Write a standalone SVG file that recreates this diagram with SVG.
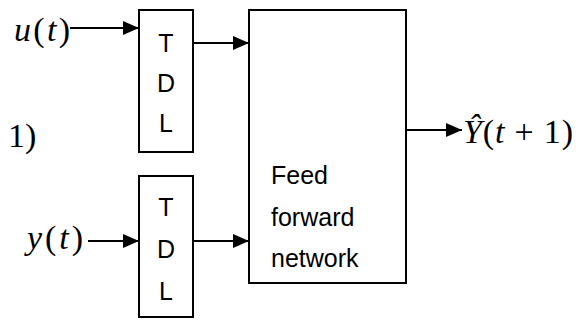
<svg xmlns="http://www.w3.org/2000/svg" width="582" height="322" viewBox="0 0 582 322">
<style>
.box{fill:#fff;stroke:#000;stroke-width:2}
.lbl{font-family:"Liberation Sans",Arial,sans-serif;font-size:25px;fill:#000}
.math{font-family:"Liberation Serif","DejaVu Serif",serif;font-size:34px;fill:#000}
.it{font-style:italic}
.conn{stroke:#000;stroke-width:2;fill:none;marker-end:url(#ah)}
</style>
<defs>
<marker id="ah" markerUnits="userSpaceOnUse" markerWidth="16" markerHeight="14" refX="16" refY="7" orient="auto">
<path d="M0,0 L16,7 L0,14 z" fill="#000"/>
</marker>
</defs>
<g id="tdl1">
<rect class="box" x="139" y="10" width="54" height="142"/>
<text class="lbl" x="166" y="52" text-anchor="middle">T</text>
<text class="lbl" x="166" y="92" text-anchor="middle">D</text>
<text class="lbl" x="166" y="132" text-anchor="middle">L</text>
</g>
<g id="tdl2">
<rect class="box" x="139" y="176" width="54" height="141"/>
<text class="lbl" x="166" y="216" text-anchor="middle">T</text>
<text class="lbl" x="166" y="258" text-anchor="middle">D</text>
<text class="lbl" x="166" y="300" text-anchor="middle">L</text>
</g>
<g id="ffn">
<rect class="box" x="249" y="10" width="157" height="273"/>
<text class="lbl" x="271" y="184">Feed</text>
<text class="lbl" x="271" y="226">forward</text>
<text class="lbl" x="271" y="267">network</text>
</g>
<g id="u-label"><text class="math" x="14" y="41" textLength="56" lengthAdjust="spacing"><tspan class="it">u</tspan>(<tspan class="it">t</tspan>)</text></g>
<g id="y-label"><text class="math" x="27" y="249" textLength="56" lengthAdjust="spacing"><tspan class="it">y</tspan>(<tspan class="it">t</tspan>)</text></g>
<g id="out-label"><text class="math" x="463" y="143" textLength="110" lengthAdjust="spacing"><tspan class="it">Ŷ</tspan>(<tspan class="it">t</tspan> + 1)</text></g>
<g id="frag"><text class="math" x="8" y="147">1)</text></g>
<g id="connectors">
<line class="conn" x1="70" y1="28" x2="139" y2="28"/>
<line class="conn" x1="193" y1="43" x2="249" y2="43"/>
<line class="conn" x1="88" y1="241" x2="139" y2="241"/>
<line class="conn" x1="193" y1="241" x2="249" y2="241"/>
<line class="conn" x1="406" y1="130" x2="462" y2="130"/>
</g>
</svg>
